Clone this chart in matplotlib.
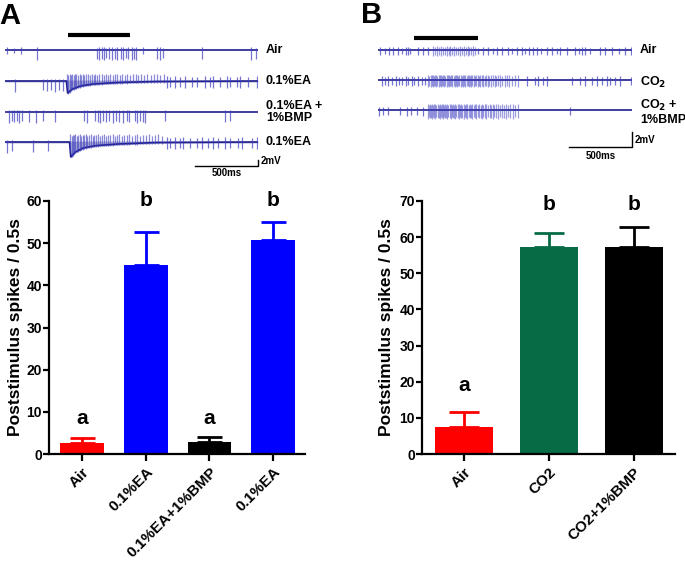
import numpy as np
import matplotlib.pyplot as plt

plt.rcParams['font.family'] = ['Liberation Sans', 'DejaVu Sans']
plt.rcParams['font.weight'] = 'bold'

# ---- bar chart data ----
a_labels = ['Air', '0.1%EA', '0.1%EA+1%BMP', '0.1%EA']
a_means = [2.5, 44.8, 2.9, 50.8]
a_errs = [1.35, 7.8, 1.15, 4.3]
a_colors = ['#ff0000', '#0000ff', '#000000', '#0000ff']
a_letters = ['a', 'b', 'a', 'b']
a_letter_y = [8.5, 60.0, 8.5, 60.0]

b_labels = ['Air', 'CO2', 'CO2+1%BMP']
b_means = [7.6, 57.3, 57.3]
b_errs = [3.9, 3.8, 5.4]
b_colors = ['#ff0000', '#076b45', '#000000']
b_letters = ['a', 'b', 'b']
b_letter_y = [19.0, 69.0, 69.0]

# ---- spike recordings, spike times in ms (2 s sweeps) ----
a1_spikes = [255, 725, 745, 764, 783, 802, 824, 843, 870, 888, 915, 935, 957, 975,
             1002, 1020, 1036, 1204, 1225, 1251, 1555, 1942, 1984]
a1_small = [13, 71, 124, 1093]

a2_pre = [79, 298, 330, 362, 395, 429, 456]
a2_burst = [490, 500, 510, 520, 531, 542, 553, 565, 577, 589, 602, 615, 628, 642, 656,
            670, 685, 700, 715, 731, 747, 763, 780, 797, 814, 832, 850, 868, 887, 906,
            926, 946, 967, 988, 1010, 1032, 1055, 1078, 1102, 1126, 1151, 1176, 1202,
            1228, 1255]
a2_post = [1278, 1304, 1344, 1383, 1423, 1476, 1515, 1581, 1621, 1647, 1700, 1753,
           1779, 1832, 1858, 1923, 1990]
a2_env_t = [0, 485, 495, 530, 600, 700, 900, 1200, 2000]
a2_env_v = [0, 0, -3.7, -2.5, -1.5, -0.9, -0.45, -0.15, 0]

a3_spikes = [34, 53, 71, 92, 113, 132, 192, 245, 298, 395, 625, 651, 711, 733, 751,
             777, 798, 824, 851, 877, 903, 930, 962, 982, 1028, 1046, 1067, 1088, 1107,
             1265, 1739, 1779]

a4_pre = [13, 53, 219, 342]
a4_burst = [516, 526, 536, 546, 556, 567, 578, 589, 601, 613, 625, 638, 651, 664, 678,
            692, 706, 721, 736, 751, 767, 783, 799, 816, 833, 850, 868, 886, 904, 923,
            942, 962, 982, 1003, 1024, 1046, 1068, 1091, 1114, 1138, 1162, 1187, 1212,
            1238]
a4_post = [1278, 1304, 1344, 1383, 1410, 1462, 1515, 1555, 1607, 1647, 1686, 1739,
           1779, 1845, 1871, 1950, 1990]
a4_env_t = [0, 510, 520, 555, 620, 720, 900, 1200, 2000]
a4_env_v = [0, 0, -4.6, -3.1, -1.8, -1.1, -0.6, -0.15, 0]

b1_spikes = [16, 55, 87, 120, 155, 187, 218, 239, 252, 318, 357, 397, 790, 829, 869,
             908, 935, 974, 1027, 1058, 1093, 1133, 1159, 1190, 1224, 1251, 1285, 1330,
             1369, 1408, 1435, 1487, 1553, 1579, 1606, 1632, 1671, 1750, 1790, 1843,
             1895, 1947, 1995]
b1_burst = [436, 450, 466, 480, 495, 512, 526, 540, 556, 570, 585, 600, 616, 630, 646,
            660, 676, 690, 706, 720, 736, 750, 764]

b2_spikes = [34, 55, 81, 108, 139, 165, 191, 217, 238, 265, 285, 317, 343, 370, 1171,
             1236, 1262, 1302, 1328, 1525, 1591, 1630, 1682, 1722, 1761, 1800, 1827,
             1866, 1906, 1995]
b2_burst = [396, 405, 414, 424, 433, 441, 450, 460, 468, 477, 486, 496, 505, 514, 522,
            531, 541, 550, 560, 568, 577, 586, 596, 605, 614, 622, 632, 641, 650, 660,
            669, 678, 688, 697, 706, 716, 725, 735, 744, 754, 764, 774, 784, 795, 806,
            817, 828, 840, 852, 864, 877, 890, 904, 918, 933, 948, 964, 980, 997, 1015,
            1034, 1055, 1078, 1102]

b3_spikes = [8, 42, 81, 173, 225, 260, 304, 357, 1512]
b3_burst = [396, 404, 412, 420, 428, 436, 444, 452, 460, 469, 477, 486, 494, 503, 511,
            520, 529, 538, 546, 555, 564, 573, 582, 591, 600, 609, 618, 628, 637, 646,
            656, 665, 675, 684, 694, 704, 714, 724, 734, 744, 754, 765, 775, 786, 797,
            808, 819, 830, 842, 854, 866, 878, 891, 904, 917, 931, 945, 960, 975, 991,
            1007, 1024, 1042, 1061, 1082, 1105]

# amplitude variation pattern seen along the traces
amp_pattern = [1.0, 0.55, 0.85, 0.65, 0.95, 0.5, 0.75]

W, H = 685, 562
fig = plt.figure(figsize=(6.85, 5.62), dpi=100)

BASE = '#1e1e8c'
SPIKE = '#3c3cc0'


def px_axes(l, t, r, b):
    return fig.add_axes([l / W, 1 - b / H, (r - l) / W, (b - t) / H])


def ftext(x, y, s, **kw):
    return fig.text(x / W, 1 - y / H, s, **kw)


def spikes(ax, y0, times, up, down, env_t=None, env_v=None, top_abs=False,
           lw=0.9, alpha=0.7):
    times = np.asarray(times, float)
    base = np.full(len(times), float(y0))
    if env_t is not None:
        base = base + np.interp(times, env_t, env_v)
    k = np.array([amp_pattern[i % len(amp_pattern)] for i in range(len(times))])
    k = 0.6 + 0.4 * k
    top = (y0 + up * k) if top_abs else (base + up * k)
    ax.vlines(times, base - down * k, top, colors=SPIKE, lw=lw, alpha=alpha)


def baseline(ax, y0, env_t=None, env_v=None):
    if env_t is None:
        ax.plot([0, 2000], [y0, y0], color=BASE, lw=1.2)
    else:
        yy = y0 + np.asarray(env_v, float)
        ax.fill_between(env_t, yy - 0.3, y0 + 0.3, color=BASE, alpha=0.35, lw=0)
        ax.plot(env_t, yy, color=BASE, lw=1.2)


def trace_axes(l, t, r, b, row0, mvpx):
    ax = px_axes(l, t, r, b)
    ax.set_xlim(0, 2000)
    ax.set_ylim(-(b - row0) / mvpx, (row0 - t) / mvpx)
    ax.axis('off')
    return ax


def scalebar(ax, y):
    ax.plot([1500, 2000, 2000], [y, y, y + 2], color='black', lw=1.0, clip_on=False)


# ================= panel A traces =================
mv_a = 3.25
ax = trace_axes(5, 25, 258, 180, 50, mv_a)
rows_a = [(50 - p) / mv_a for p in (50, 81, 112, 142)]
ax.plot([500, 990], [(50 - 35) / mv_a] * 2, color='black', lw=3, solid_capstyle='butt',
        clip_on=False)

baseline(ax, rows_a[0])
spikes(ax, rows_a[0], a1_spikes, 0.9, 3.2)
spikes(ax, rows_a[0], a1_small, 0.9, 1.3)

baseline(ax, rows_a[1], a2_env_t, a2_env_v)
spikes(ax, rows_a[1], a2_pre, 0.6, 3.3)
spikes(ax, rows_a[1], a2_burst, 2.3, 0.4, a2_env_t, a2_env_v, top_abs=True, alpha=0.6)
spikes(ax, rows_a[1], a2_post, 1.5, 2.2)

baseline(ax, rows_a[2])
spikes(ax, rows_a[2], a3_spikes, 0.7, 3.3)

baseline(ax, rows_a[3], a4_env_t, a4_env_v)
spikes(ax, rows_a[3], a4_pre, 0.6, 3.3)
spikes(ax, rows_a[3], a4_burst, 2.4, 0.4, a4_env_t, a4_env_v, top_abs=True, alpha=0.6)
spikes(ax, rows_a[3], a4_post, 1.5, 2.2)

scalebar(ax, (50 - 166) / mv_a)

lab_kw = dict(fontsize=9, fontweight='bold', va='center', ha='left')
ftext(266, 50, 'Air', **lab_kw)
ftext(266, 81, '0.1%EA', **lab_kw)
ftext(266, 112, '0.1%EA +\n1%BMP', linespacing=1.05, **lab_kw)
ftext(266, 142, '0.1%EA', **lab_kw)
ftext(261, 161, '2mV', fontsize=7, fontweight='bold', va='center', ha='left')
ftext(227, 173, '500ms', fontsize=7, fontweight='bold', va='center', ha='center')
ftext(-1, 16, 'A', fontsize=21, fontweight='bold', va='center', ha='left')

# ================= panel B traces =================
mv_b = 7.5
bx = trace_axes(378, 25, 632, 165, 50, mv_b)
rows_b = [(50 - p) / mv_b for p in (50, 80, 110)]
bx.plot([283, 787], [(50 - 38) / mv_b] * 2, color='black', lw=3, solid_capstyle='butt',
        clip_on=False)

baseline(bx, rows_b[0])
spikes(bx, rows_b[0], b1_spikes, 0.4, 0.7)
spikes(bx, rows_b[0], b1_burst, 0.5, 0.8, alpha=0.5)

baseline(bx, rows_b[1])
spikes(bx, rows_b[1], b2_spikes, 0.5, 0.8)
spikes(bx, rows_b[1], b2_burst, 0.7, 0.95, alpha=0.5)

baseline(bx, rows_b[2])
spikes(bx, rows_b[2], b3_spikes, 0.45, 0.75)
spikes(bx, rows_b[2], b3_burst, 0.85, 1.2, alpha=0.5)

scalebar(bx, (50 - 147) / mv_b)

ftext(640, 50, 'Air', **lab_kw)
ftext(640, 82, 'CO$_\\mathbf{2}$', **lab_kw)
ftext(640, 112, 'CO$_\\mathbf{2}$ +\n1%BMP', linespacing=1.2, **lab_kw)
ftext(635, 140, '2mV', fontsize=7, fontweight='bold', va='center', ha='left')
ftext(601, 156, '500ms', fontsize=7, fontweight='bold', va='center', ha='center')
ftext(361, 15, 'B', fontsize=21, fontweight='bold', va='center', ha='left')


# ================= bar charts =================
def draw_bars(ax, labels, means, errs, colors, letters, letter_y, ymax, width, cap):
    x = np.arange(len(labels))
    ax.bar(x, means, width=width, color=colors, edgecolor=colors, lw=0, zorder=2)
    for xi, m, e, c in zip(x, means, errs, colors):
        ax.errorbar(xi, m, yerr=[[0], [e]], color=c, lw=2, capsize=cap, capthick=2,
                    zorder=3)
    for xi, s, ly in zip(x, letters, letter_y):
        ax.text(xi, ly, s, ha='center', va='center', fontsize=15, fontweight='bold')
    ax.set_ylim(0, ymax)
    ax.set_yticks(np.arange(0, ymax + 1, 10))
    ax.set_xticks(x)
    ax.set_xticklabels(labels, rotation=45, ha='right', rotation_mode='anchor')
    for s in ('top', 'right'):
        ax.spines[s].set_visible(False)
    for s in ('left', 'bottom'):
        ax.spines[s].set_linewidth(1.6)
    ax.tick_params(axis='y', length=4, width=1.6, labelsize=10, pad=1)
    ax.tick_params(axis='x', length=5, width=1.6, labelsize=11, pad=3)
    for t in ax.get_xticklabels() + ax.get_yticklabels():
        t.set_fontweight('bold')


ba = px_axes(49, 201, 305, 454)
draw_bars(ba, a_labels, a_means, a_errs, a_colors, a_letters, a_letter_y, 60, 0.69, 9)
ba.set_xlim(-0.52, 3.5)
ftext(16, 327, 'Poststimulus spikes / 0.5s', rotation=90, fontsize=12.5,
      fontweight='bold', ha='center', va='center')

bb = px_axes(422, 201, 675, 454)
draw_bars(bb, b_labels, b_means, b_errs, b_colors, b_letters, b_letter_y, 70, 0.685, 11)
bb.set_xlim(-0.5, 2.49)
ftext(386, 327, 'Poststimulus spikes / 0.5s', rotation=90, fontsize=12.5,
      fontweight='bold', ha='center', va='center')

fig.savefig('out.png', dpi=100)
